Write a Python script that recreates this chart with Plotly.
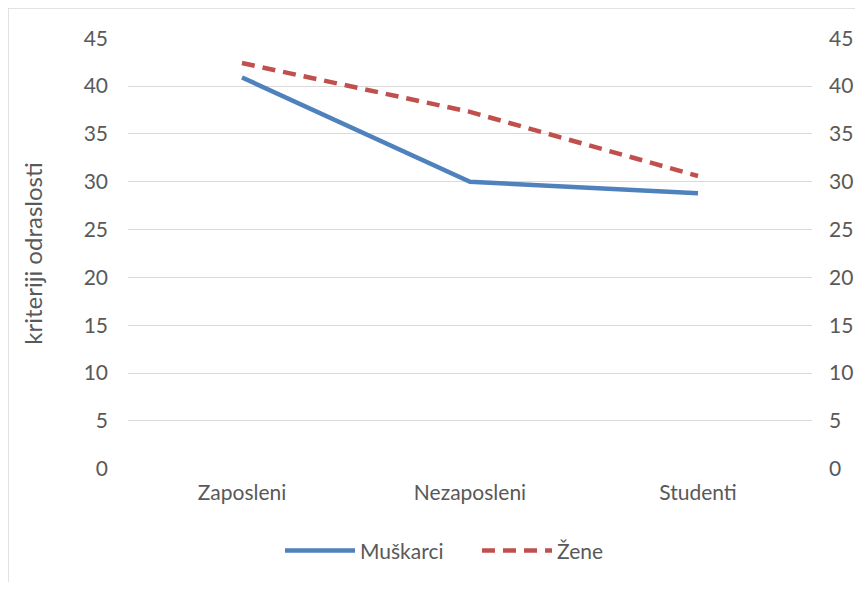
import plotly.graph_objects as go

categories = ["Zaposleni", "Nezaposleni", "Studenti"]
muskarci = [40.9, 30.0, 28.8]
zene = [42.4, 37.3, 30.6]
y_ticks = [0, 5, 10, 15, 20, 25, 30, 35, 40, 45]

FONT = "Lato, Open Sans, sans-serif"
TXT = "#595959"
FS = 21

# page body has an 8px default margin, so the figure is sized/placed to compensate
W, H = 847, 574
L, R, T, B = 120, 43, 30, 113

fig = go.Figure()
fig.add_trace(go.Scatter(x=categories, y=muskarci, mode="lines", name="Muškarci",
                         line=dict(color="#4F81BD", width=4.5)))
fig.add_trace(go.Scatter(x=categories, y=zene, mode="lines", name="Žene",
                         line=dict(color="#C0504D", width=4.5, dash="13px,8px")))
# invisible trace to anchor the mirrored right axis
fig.add_trace(go.Scatter(x=categories, y=muskarci, mode="lines", yaxis="y2",
                         showlegend=False, hoverinfo="skip",
                         line=dict(width=0), opacity=0))

pw, ph = W - L - R, H - T - B

fig.update_layout(
    width=W, height=H,
    margin=dict(l=L, r=R, t=T, b=B, autoexpand=False),
    paper_bgcolor="white", plot_bgcolor="white",
    font=dict(family=FONT, size=FS, color=TXT),
    xaxis=dict(showgrid=False, showline=False, ticks="", tickfont=dict(size=FS, color=TXT),
               range=[-0.5, 2.5], ticklabelstandoff=9),
    yaxis=dict(range=[-0.02, 45.02], tickvals=y_ticks, showgrid=True, gridcolor="#D9D9D9",
               gridwidth=1, zeroline=False, showline=False, ticks="",
               ticklabelstandoff=19, tickfont=dict(size=FS, color=TXT),
               title=dict(text="kriteriji odraslosti", font=dict(size=24, color=TXT), standoff=34)),
    yaxis2=dict(range=[-0.02, 45.02], tickvals=y_ticks, overlaying="y", side="right",
                showgrid=False, zeroline=False, showline=False, ticks="",
                ticklabelstandoff=16, tickfont=dict(size=FS, color=TXT)),
    legend=dict(orientation="h", x=(272 - L) / pw, xanchor="left", y=-0.19, yanchor="middle",
                font=dict(size=FS, color=TXT), itemwidth=70, entrywidth=112,
                entrywidthmode="pixels", tracegroupgap=0),
    showlegend=True,
)

# chart-area border (top and left edges visible in the cropped original)
fig.add_shape(type="line", xref="paper", yref="paper",
              x0=-L / pw, x1=(W - L) / pw, y0=1 + T / ph, y1=1 + T / ph,
              line=dict(color="#D9D9D9", width=1.5), layer="below")
fig.add_shape(type="line", xref="paper", yref="paper",
              x0=-L / pw, x1=-L / pw, y0=1 + T / ph, y1=-B / ph,
              line=dict(color="#D9D9D9", width=1.5), layer="below")

fig.write_html("out.html")
